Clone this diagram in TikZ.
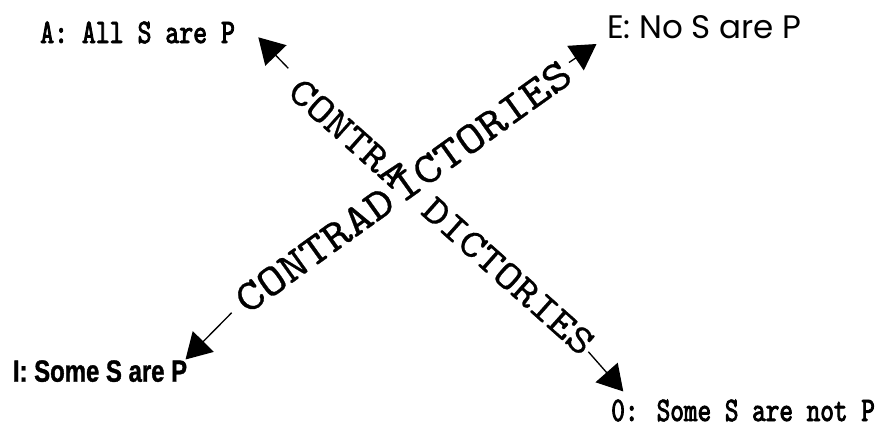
\documentclass[tikz,border=0pt]{standalone}
\usepackage{fontspec}
\newfontfamily\geofont{Poppins}
\newfontfamily\narrowsans{Liberation Sans}[FakeStretch=0.78, FakeBold=1.2]
\newfontfamily\monolabel{lmmono10-regular.otf}[FakeStretch=0.77, FakeBold=2.5]
\newfontfamily\monolabelb{lmmono10-regular.otf}[FakeStretch=0.755, FakeBold=2.5]
\newfontfamily\monowide{lmmono10-regular.otf}[FakeStretch=1.145, FakeBold=0.6]
\usetikzlibrary{arrows.meta}
\begin{document}
\begin{tikzpicture}[x=0.75pt,y=-0.75pt,
  arr/.style={-{Triangle[length=19pt,width=22pt]}, line width=1pt},
  diag/.style={inner sep=0pt, text depth=0pt},
  corner/.style={inner sep=0pt, anchor=base west}]
\useasboundingbox (0,0) rectangle (883,426);

% corner labels
\node[corner] (A) at (40,43) {\fontsize{25.8pt}{25.8pt}\selectfont\monolabel A: All S are P};
\node[corner] (O) at (611,421) {\fontsize{25.8pt}{25.8pt}\selectfont\monolabelb 0: Some S are not P};
\node[corner] (E) at (607,38.3) {\fontsize{24.4pt}{24.4pt}\selectfont\geofont E: No S are P};
\node[corner] (I) at (12.7,381.7) {\fontsize{23pt}{23pt}\selectfont\narrowsans\bfseries I: Some S are P};

% diagonal texts
\node[diag, rotate=-41.7, text height=18.3pt] (t1) at (441.7,216.7)
  {\fontsize{30pt}{30pt}\selectfont\monowide CONTRA\kern26pt DICTORIES};
\node[diag, rotate=35.6, text height=20.2pt] (t2) at (403.3,186.7)
  {\fontsize{33pt}{33pt}\selectfont\monowide CONTRAD\kern4.8pt ICTORIES};

% arrow ends
\coordinate (sA) at (288.3,68.3);  \coordinate (tA) at (258.3,37.3);
\coordinate (sE) at (569,62.5);    \coordinate (tE) at (596.5,44);
\coordinate (sI) at (231.7,312.7); \coordinate (tI) at (185.5,359.5);
\coordinate (sO) at (588.3,351.7); \coordinate (tO) at (623.3,391.5);

\draw[arr] (sA) -- (tA);
\draw[arr] (sE) -- (tE);
\draw[arr] (sI) -- (tI);
\draw[arr] (sO) -- (tO);
\end{tikzpicture}
\end{document}
